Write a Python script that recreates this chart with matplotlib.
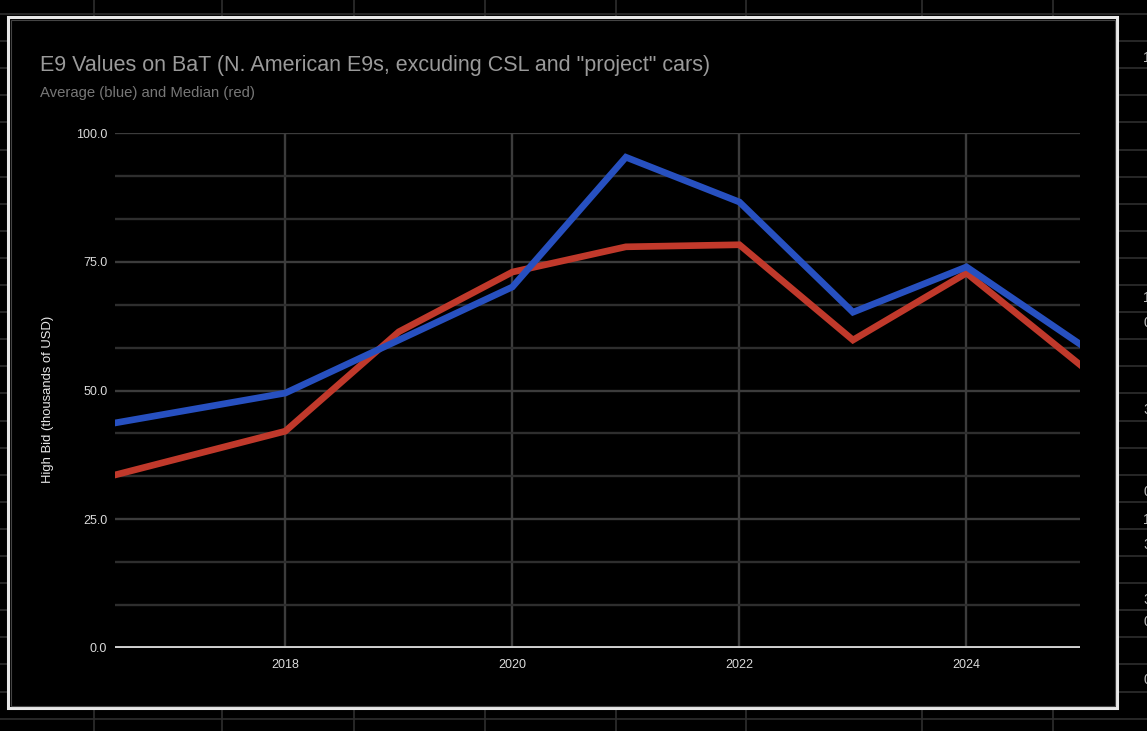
import matplotlib.pyplot as plt
import numpy as np
from matplotlib.ticker import MultipleLocator
from matplotlib.patches import Rectangle

plt.rcParams['font.family'] = ['Liberation Sans', 'DejaVu Sans']

# data
years = [2016.5, 2018, 2019, 2020, 2021, 2022, 2023, 2024, 2025]
average = [43.7, 49.5, 59.8, 70.1, 95.3, 86.6, 65.2, 74.0, 59.0]
median = [33.6, 42.1, 61.4, 73.0, 77.9, 78.3, 59.8, 72.8, 55.0]

yticks = [0, 25, 50, 75, 100]
xticks = [2018, 2020, 2022, 2024]

title = 'E9 Values on BaT (N. American E9s, excuding CSL and "project" cars)'
subtitle = "Average (blue) and Median (red)"
ylabel = "High Bid (thousands of USD)"

W, H = 1147, 731
fig = plt.figure(figsize=(W / 100, H / 100), dpi=100)
fig.patch.set_facecolor("black")

# spreadsheet grid behind the chart (pixel coords)
bg = fig.add_axes([0, 0, 1, 1])
bg.set_xlim(0, W)
bg.set_ylim(H, 0)
bg.axis("off")
sheet_cols = [94, 222, 354, 485, 616, 746, 922, 1053]
for c in sheet_cols:
    bg.axvline(c, color="#2e2e2e", lw=1.2)
for r in np.arange(14, H, 27.1):
    bg.axhline(r, color="#2e2e2e", lw=1.2)
bg.add_patch(Rectangle((8, 17), 1109, 691, facecolor="black",
                       edgecolor="#e8e8e8", lw=2.2, zorder=5))
bg.add_patch(Rectangle((10.5, 19.5), 1104, 686, facecolor="none",
                       edgecolor="#444444", lw=0.8, zorder=6))

# clipped cell text at the right edge
for yy, ch in [(58, "1"), (298, "1"), (323, "0"), (410, "3"), (492, "0"),
               (520, "1"), (545, "3"), (600, "3"), (622, "0"), (680, "0")]:
    bg.text(1143, yy, ch, color="#bbbbbb", fontsize=10, va="center", ha="left")

ax = fig.add_axes([115 / W, 83 / H, 965 / W, 515 / H])
ax.set_facecolor("black")
ax.set_zorder(10)

ax.plot(years, average, color="#2750c0", lw=4.8, zorder=4, solid_joinstyle="miter")
ax.plot(years, median, color="#c0392b", lw=4.8, zorder=3, solid_joinstyle="miter")

ax.set_xlim(2016.5, 2025.0)
ax.set_ylim(0, 100)
ax.set_yticks(yticks)
ax.set_yticklabels([f"{v:.1f}" for v in yticks])
ax.set_xticks(xticks)
ax.set_xticklabels([str(v) for v in xticks])
ax.yaxis.set_minor_locator(MultipleLocator(25 / 3))

ax.grid(True, which="major", axis="both", color="#3c3c3c", lw=1.7, zorder=1)
ax.grid(True, which="minor", axis="y", color="#2e2e2e", lw=1.7, zorder=1)
ax.axhline(0, color="#d0d0d0", lw=2.8, zorder=5)

for s in ax.spines.values():
    s.set_visible(False)
ax.tick_params(which="both", length=0, colors="#dadada", labelsize=9)
ax.tick_params(axis="y", pad=5.5)
ax.tick_params(axis="x", pad=8)

fig.text(40 / W, 1 - 65 / H, title, color="#9a9a9a", fontsize=15.5, va="center")
fig.text(40 / W, 1 - 93 / H, subtitle, color="#777777", fontsize=10.7, va="center")
fig.text(48 / W, 1 - 399 / H, ylabel, color="#e8e8e8", fontsize=9.4,
         rotation=90, va="center", ha="center")

fig.savefig("out.png", dpi=100, facecolor="black")
